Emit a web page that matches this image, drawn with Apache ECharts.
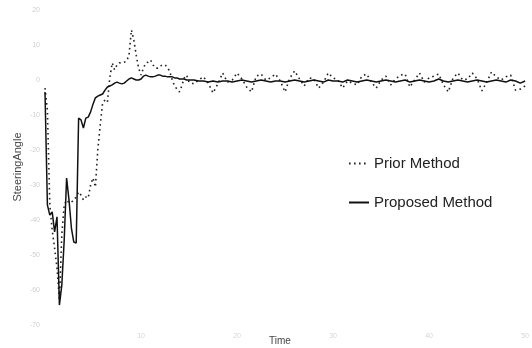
<!DOCTYPE html>
<html>
<head>
<meta charset="utf-8">
<script src="https://cdn.jsdelivr.net/npm/echarts@6/dist/echarts.min.js"></script>
<style>html,body{margin:0;padding:0;background:#fff}#c{width:532px;height:348px}</style>
</head>
<body>
<div id="c"></div>
<script>
// sample times: 0..15 every 0.25, then 15.5..50 every 0.5
const timeFine = [0,0.25,0.5,0.75,1,1.25,1.5,1.75,2,2.25,2.5,2.75,3,3.25,3.5,3.75,4,4.25,4.5,4.75,5,5.25,5.5,5.75,6,6.25,6.5,6.75,7,7.25,7.5,7.75,8,8.25,8.5,8.75,9,9.25,9.5,9.75,10,10.25,10.5,10.75,11,11.25,11.5,11.75,12,12.25,12.5,12.75,13,13.25,13.5,13.75,14,14.25,14.5,14.75,15];
const timeCoarse = [15.5,16,16.5,17,17.5,18,18.5,19,19.5,20,20.5,21,21.5,22,22.5,23,23.5,24,24.5,25,25.5,26,26.5,27,27.5,28,28.5,29,29.5,30,30.5,31,31.5,32,32.5,33,33.5,34,34.5,35,35.5,36,36.5,37,37.5,38,38.5,39,39.5,40,40.5,41,41.5,42,42.5,43,43.5,44,44.5,45,45.5,46,46.5,47,47.5,48,48.5,49,49.5,50];

const priorFine = [-2.3,-8.6,-35.7,-42.9,-48.0,-53.7,-62.9,-44.3,-35.7,-34.3,-35.1,-34.9,-34.3,-33.4,-32.0,-32.9,-34.3,-33.4,-33.7,-30.0,-28.0,-30.6,-20.0,-12.9,-6.6,-5.7,-6.3,0.6,4.9,2.9,4.3,4.9,4.9,5.1,5.4,7.1,14.3,11.4,7.1,3.4,1.4,3.4,4.9,5.1,5.7,4.3,3.4,3.4,4.0,4.3,4.3,3.7,2.3,0,-1.7,-2.6,-3.4,-1.7,0.6,1.4,-0.6];
const priorCoarse = [-1.1,0,0.9,-0.9,-3.7,-1.1,2.0,-0.6,0,2.0,0.3,-2.0,-3.4,1.1,1.7,0,0.6,1.7,-0.3,-3.4,0.6,2.6,0.3,-1.7,0.6,0.3,-2.3,-0.6,2.0,0.6,0,-2.3,-0.3,-0.9,-1.4,1.1,1.7,-0.6,-2.3,0,1.1,-1.4,0.3,1.4,1.7,-2.0,0,2.0,-0.6,0.6,1.1,1.7,-1.4,-3.4,0.6,2.0,0,0.3,2.0,0.3,-3.1,-0.6,2.3,0.9,0,0.9,1.4,-2.9,-2.6,-1.7];

const proposedFine = [-3.4,-35.7,-38.6,-37.7,-43.4,-39.1,-64.3,-58.6,-45.7,-28.0,-34.3,-42.3,-46.3,-46.6,-10.9,-11.4,-13.7,-10.9,-10.6,-9.1,-6.9,-5.1,-4.6,-4.3,-4.0,-2.9,-2.0,-1.7,-1.4,-0.9,-0.6,-0.9,-1.1,-0.9,-0.3,0.3,0.6,0.3,0,0,0.3,1.1,1.4,1.1,0.9,0.9,1.1,1.4,1.4,1.1,1.1,0.9,0.9,0.9,0.6,0.6,0.3,0.3,0.3,0,0];
const proposedCoarse = [0,-0.3,-0.3,-0.6,-0.3,-0.6,-0.3,-0.3,-0.6,-0.3,0,-0.3,-0.6,-0.3,0,-0.3,-0.6,-0.3,-0.3,-0.6,-0.3,0,-0.3,-0.6,-0.3,0,-0.3,-0.6,0,-0.3,-0.3,-0.6,0,-0.3,-0.6,-0.3,0,-0.3,-0.6,-0.3,0,-0.3,-0.6,-0.3,0,-0.6,-0.3,0,-0.3,-0.6,-0.3,0.3,-0.3,-0.6,-0.3,0,-0.3,-0.6,-0.3,0,-0.3,-0.6,-0.3,0,-0.3,-0.6,0,-0.3,-0.9,-0.3];

const yTicks = [20,10,0,-10,-20,-30,-40,-50,-60,-70];
const xTicks = [0,10,20,30,40,50];
const seriesNames = ['Prior Method','Proposed Method'];

const time = timeFine.concat(timeCoarse);
const prior = priorFine.concat(priorCoarse);
const proposed = proposedFine.concat(proposedCoarse);
const pairs = (ys) => time.map((t, i) => [t, ys[i]]);

const chart = echarts.init(document.getElementById('c'), null, {renderer: 'canvas'});
chart.setOption({
  animation: false,
  backgroundColor: '#fff',
  grid: {left: 45, right: 2, top: 10, bottom: 23, containLabel: false},
  xAxis: {
    type: 'value',
    min: xTicks[0], max: xTicks[xTicks.length - 1], interval: 10,
    axisLine: {show: false, onZero: true},
    axisTick: {show: false},
    splitLine: {show: false},
    axisLabel: {color: '#d6d6d6', fontSize: 7, margin: 8,
      formatter: v => v === 0 ? '' : String(v)}
  },
  yAxis: {
    type: 'value',
    min: yTicks[yTicks.length - 1], max: yTicks[0], interval: 10,
    axisLine: {show: false},
    axisTick: {show: false},
    splitLine: {show: false},
    axisLabel: {color: '#cfcfcf', fontSize: 7, margin: 5}
  },
  legend: {
    orient: 'vertical',
    left: 343, top: 151,
    itemWidth: 20, itemHeight: 14, itemGap: 24,
    itemStyle: {color: 'transparent', borderWidth: 0, opacity: 0},
    textStyle: {color: '#222', fontSize: 15, fontFamily: 'Liberation Sans'},
    data: seriesNames
  },
  graphic: [{
    type: 'text', left: 269, top: 336,
    style: {text: 'Time', fill: '#444', font: '10px "Liberation Sans"'}
  }, {
    type: 'text', x: 18, y: 167, rotation: Math.PI / 2,
    style: {text: 'SteeringAngle', fill: '#444', font: '11px "Liberation Sans"',
      align: 'center', verticalAlign: 'middle'}
  }],
  series: [
    {
      name: seriesNames[0], type: 'line', data: pairs(prior),
      symbol: 'none', z: 2,
      lineStyle: {color: '#222', width: 1.6, type: [1.6, 3.4]},
      itemStyle: {color: '#222'}
    },
    {
      name: seriesNames[1], type: 'line', data: pairs(proposed),
      symbol: 'none', z: 3,
      lineStyle: {color: '#111', width: 1.5, type: 'solid'},
      itemStyle: {color: '#111'}
    }
  ]
});
</script>
</body>
</html>
